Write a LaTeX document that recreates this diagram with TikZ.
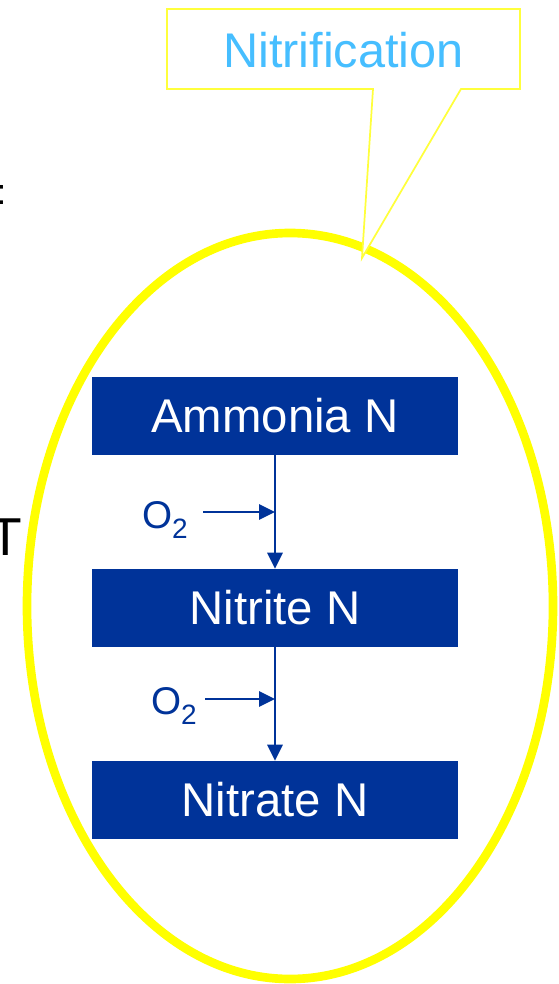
\documentclass[tikz,border=0pt]{standalone}
\usepackage{fontspec}
\setmainfont{Liberation Sans}
\usetikzlibrary{arrows.meta}
\definecolor{boxblue}{RGB}{0,51,153}
\definecolor{calloutblue}{RGB}{70,190,255}
\definecolor{ringyellow}{RGB}{255,255,0}
\definecolor{calloutyellow}{RGB}{255,255,60}
\newcommand{\lowtwo}{\raisebox{-7.5pt}{\fontsize{21}{24}\selectfont 2}}

\begin{document}
\begin{tikzpicture}[x=0.75pt,y=-0.75pt]
	    \tikzstyle{stage}=[fill=boxblue,text=white,minimum width=274.5pt,minimum height=58.5pt,inner sep=0pt,font=\fontsize{35.5}{40}\selectfont]
	    \tikzstyle{flow}=[draw=boxblue,line width=1.5pt,-{Triangle[length=12pt,width=11.5pt]}]
	    \tikzstyle{gas}=[text=boxblue,inner sep=0pt,anchor=base east,font=\fontsize{29}{34}\selectfont]
	    \useasboundingbox (0,0) rectangle (559,984);
	    % cut off slide text on the left
	    \node[anchor=base west,inner sep=0pt,font=\fontsize{27}{32}\selectfont] (colon) at (-4,205) {:};
	    \node[anchor=base west,inner sep=0pt,font=\fontsize{40}{46}\selectfont] (tee) at (-10.5,555) {T};
	    % the ring
	    \draw[ringyellow,line width=6.5pt] (290,606) ellipse [x radius=263*0.75pt,y radius=373*0.75pt];
	    % callout
	    \draw[calloutyellow,line width=1.3pt,fill=white] (167,9) -- (520,9) -- (520,89) -- (461,89) -- (362,258) -- (373,89) -- (167,89) -- cycle;
	    \node[text=calloutblue,font=\fontsize{36.5}{42}\selectfont] (title) at (343.5,50) {Nitrification};
	    % stages
	    \node[stage] (ammonia) at (275,416) {Ammonia N};
	    \node[stage] (nitrite) at (275,608) {Nitrite N};
	    \node[stage] (nitrate) at (275,800) {Nitrate N};
	    \draw[flow] (ammonia.south) -- (nitrite.north);
	    \draw[flow] (nitrite.south) -- (nitrate.north);
	    % oxygen in
	    \coordinate (j1) at (275,512);
	    \coordinate (s1) at (203,512);
	    \node[gas] (o1) at (188,528) {O\lowtwo};
	    \draw[flow] (s1) -- (j1);
	    \coordinate (j2) at (275,699);
	    \coordinate (s2) at (205,699);
	    \node[gas] (o2) at (197,714) {O\lowtwo};
	    \draw[flow] (s2) -- (j2);
\end{tikzpicture}
\end{document}
